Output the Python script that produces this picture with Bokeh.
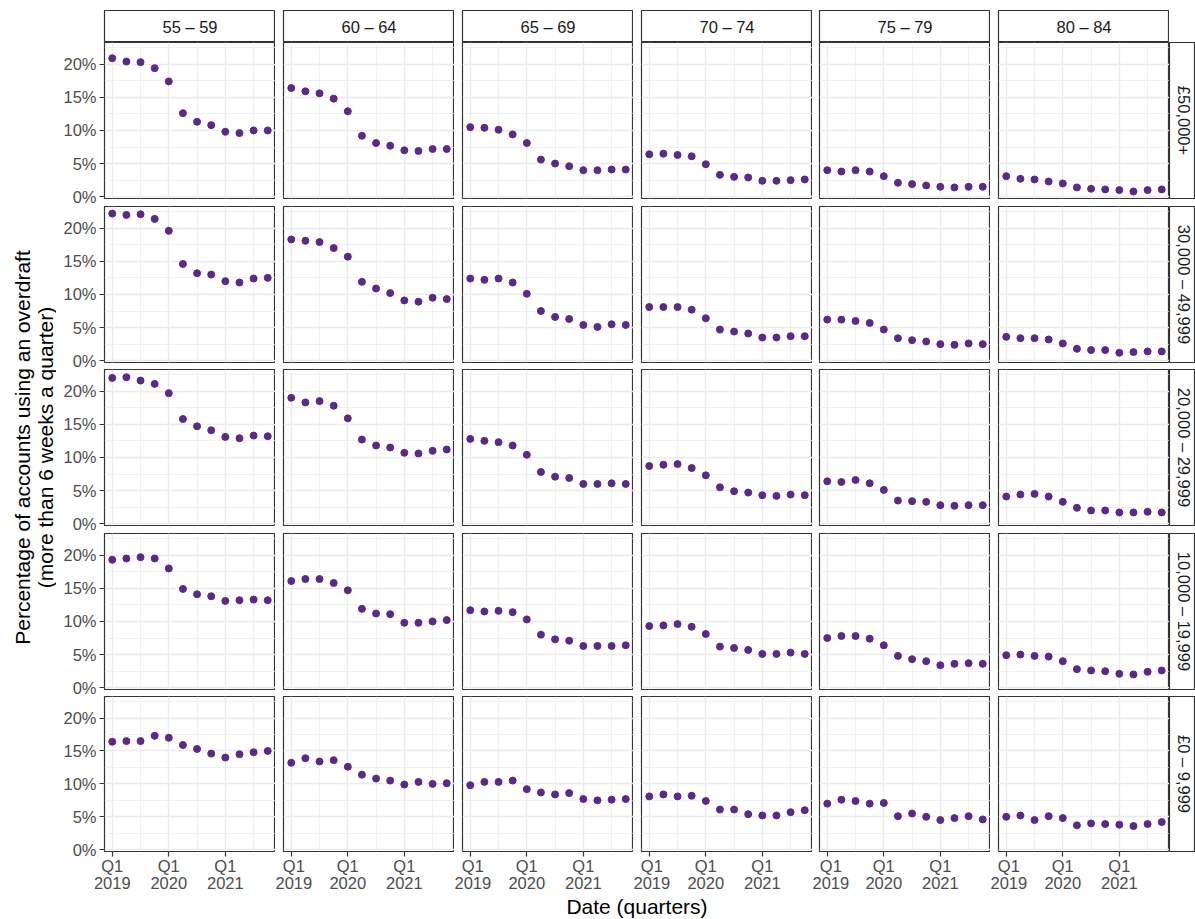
import math
from bokeh.plotting import figure
from bokeh.layouts import row, column
from bokeh.models import (Range1d, FixedTicker, ColumnDataSource, Label, Spacer,
                          PrintfTickFormatter)
from bokeh.embed import file_html
from bokeh.resources import INLINE

# ---------------- data ----------------
age_groups = ["55 – 59", "60 – 64", "65 – 69", "70 – 74", "75 – 79", "80 – 84"]
income_bands = ["£50,000+", "30,000 – 49,999", "20,000 – 29,999",
                "10,000 – 19,999", "£0 – 9,999"]
quarter_index = list(range(12))
quarter_labels = ["2019 Q1", "2019 Q2", "2019 Q3", "2019 Q4",
                  "2020 Q1", "2020 Q2", "2020 Q3", "2020 Q4",
                  "2021 Q1", "2021 Q2", "2021 Q3", "2021 Q4"]
x_tick_positions = [0, 4, 8]
x_tick_labels = ["Q1\n2019", "Q1\n2020", "Q1\n2021"]
y_ticks = [0, 5, 10, 15, 20]

# percentage of accounts, one list per age group (55-59 ... 80-84)
band_50k_plus = [
    [20.9, 20.4, 20.3, 19.4, 17.4, 12.6, 11.3, 10.8, 9.8, 9.6, 10.0, 10.0],
    [16.4, 15.9, 15.6, 14.8, 12.9, 9.2, 8.1, 7.7, 7.0, 6.9, 7.2, 7.2],
    [10.5, 10.4, 10.1, 9.4, 8.1, 5.6, 5.0, 4.6, 4.0, 4.0, 4.1, 4.1],
    [6.4, 6.5, 6.3, 6.1, 4.9, 3.3, 3.0, 2.9, 2.4, 2.4, 2.5, 2.6],
    [4.0, 3.8, 4.0, 3.8, 3.1, 2.1, 1.9, 1.7, 1.5, 1.4, 1.5, 1.5],
    [3.1, 2.7, 2.6, 2.3, 2.0, 1.4, 1.2, 1.1, 1.0, 0.8, 1.0, 1.1],
]
band_30k_50k = [
    [22.2, 22.0, 22.1, 21.4, 19.6, 14.6, 13.2, 13.0, 12.0, 11.8, 12.4, 12.5],
    [18.3, 18.1, 17.9, 17.0, 15.7, 11.9, 10.9, 10.2, 9.1, 8.9, 9.5, 9.3],
    [12.4, 12.2, 12.4, 11.8, 10.1, 7.5, 6.6, 6.3, 5.4, 5.1, 5.5, 5.4],
    [8.1, 8.1, 8.1, 7.7, 6.4, 4.7, 4.4, 4.1, 3.5, 3.5, 3.7, 3.7],
    [6.2, 6.2, 6.0, 5.7, 4.7, 3.4, 3.1, 2.9, 2.5, 2.4, 2.6, 2.5],
    [3.6, 3.4, 3.4, 3.2, 2.6, 1.8, 1.6, 1.6, 1.2, 1.3, 1.4, 1.4],
]
band_20k_30k = [
    [22.0, 22.1, 21.6, 21.1, 19.7, 15.8, 14.7, 14.1, 13.1, 12.9, 13.3, 13.2],
    [19.0, 18.3, 18.5, 17.8, 15.9, 12.7, 11.8, 11.5, 10.7, 10.6, 11.0, 11.2],
    [12.8, 12.5, 12.3, 11.8, 10.4, 7.8, 7.1, 6.9, 6.0, 6.0, 6.1, 6.0],
    [8.7, 8.9, 9.0, 8.4, 7.3, 5.5, 4.9, 4.7, 4.3, 4.2, 4.4, 4.3],
    [6.4, 6.3, 6.6, 6.1, 5.1, 3.5, 3.4, 3.3, 2.8, 2.7, 2.8, 2.8],
    [4.1, 4.4, 4.5, 4.1, 3.3, 2.4, 2.0, 2.0, 1.7, 1.7, 1.8, 1.7],
]
band_10k_20k = [
    [19.3, 19.5, 19.7, 19.5, 18.0, 14.9, 14.1, 13.8, 13.1, 13.2, 13.3, 13.2],
    [16.1, 16.4, 16.4, 15.8, 14.7, 11.9, 11.2, 11.1, 9.8, 9.8, 10.0, 10.2],
    [11.7, 11.5, 11.6, 11.4, 10.3, 8.0, 7.3, 7.1, 6.3, 6.3, 6.3, 6.4],
    [9.3, 9.4, 9.6, 9.2, 8.1, 6.2, 6.0, 5.7, 5.1, 5.1, 5.3, 5.1],
    [7.5, 7.8, 7.8, 7.4, 6.4, 4.8, 4.3, 4.0, 3.4, 3.6, 3.7, 3.6],
    [4.9, 5.0, 4.8, 4.7, 4.0, 2.8, 2.6, 2.5, 2.1, 2.0, 2.4, 2.6],
]
band_0_10k = [
    [16.4, 16.5, 16.5, 17.3, 17.0, 15.9, 15.3, 14.6, 14.0, 14.5, 14.8, 15.0],
    [13.2, 13.9, 13.4, 13.6, 12.6, 11.4, 10.8, 10.5, 9.9, 10.3, 10.0, 10.1],
    [9.8, 10.3, 10.3, 10.5, 9.2, 8.7, 8.4, 8.6, 7.7, 7.5, 7.6, 7.7],
    [8.1, 8.4, 8.1, 8.2, 7.4, 6.1, 6.1, 5.4, 5.2, 5.2, 5.7, 6.0],
    [7.0, 7.6, 7.4, 7.0, 7.1, 5.1, 5.5, 5.0, 4.5, 4.8, 5.1, 4.6],
    [5.0, 5.2, 4.5, 5.1, 4.8, 3.7, 4.0, 3.9, 3.8, 3.6, 3.9, 4.2],
]
bands = [band_50k_plus, band_30k_50k, band_20k_30k, band_10k_20k, band_0_10k]

# ---------------- scales ----------------
all_vals = [v for b in bands for s in b for v in s]
lo, hi = min(all_vals), max(all_vals)
pad = 0.05 * (hi - lo)
y_lo, y_hi = lo - pad, hi + pad
x_pad = 0.05 * (quarter_index[-1] - quarter_index[0])
x_lo, x_hi = quarter_index[0] - x_pad, quarter_index[-1] + x_pad

# ---------------- style / geometry ----------------
FONT = "Liberation Sans"
PURPLE = "#5A2A86"
BORDER = "#333333"
GRID = "#EBEBEB"
TICK_FS = "16.5px"
TITLE_FS = "21px"

FRAME_W, FRAME_H = 171, 156
LEFT_AX = 48
YT_W = 56
COL_GAPS = [8, 8, 8, 7, 8]
ROW_GAPS = [8, 7, 8, 7]
STRIP_TOP, STRIP_H = 10, 32
RSTRIP_W = 26
XAX = 42
TOTAL_H = 919
COL_W = LEFT_AX + 6 * FRAME_W + sum(COL_GAPS) + RSTRIP_W
GRID_H = STRIP_TOP + STRIP_H + 5 * FRAME_H + sum(ROW_GAPS) + XAX
XT_H = TOTAL_H - GRID_H
N_ROWS = len(bands)


def bottom_border(ri):
    return XAX if ri == N_ROWS - 1 else ROW_GAPS[ri]


def left_border(ci):
    return LEFT_AX if ci == 0 else COL_GAPS[ci - 1]


def base_fig(**kw):
    p = figure(output_backend="svg", toolbar_location=None, min_border=0,
               x_axis_location=None, y_axis_location=None, **kw)
    p.grid.visible = False
    return p


def style_axis(ax, standoff, line_height):
    ax.axis_line_color = None
    ax.major_tick_line_color = BORDER
    ax.major_tick_line_width = 1.2
    ax.major_tick_out = 5
    ax.major_tick_in = 0
    ax.minor_tick_line_color = None
    ax.major_label_standoff = standoff
    ax.major_label_text_font = FONT
    ax.major_label_text_font_size = TICK_FS
    ax.major_label_text_color = "#4D4D4D"
    ax.major_label_text_line_height = line_height


def make_panel(vals, ri, ci):
    is_left = ci == 0
    is_bottom = ri == N_ROWS - 1
    p = figure(
        width=left_border(ci) + FRAME_W, height=FRAME_H + bottom_border(ri),
        x_range=Range1d(x_lo, x_hi), y_range=Range1d(y_lo, y_hi),
        x_axis_location="below" if is_bottom else None,
        y_axis_location="left" if is_left else None,
        output_backend="svg", toolbar_location=None, min_border=0,
        min_border_left=left_border(ci), min_border_right=0,
        min_border_top=0, min_border_bottom=bottom_border(ri),
        outline_line_color=BORDER, outline_line_width=1.2,
        background_fill_color="white", border_fill_color="white",
    )
    p.xgrid.ticker = FixedTicker(ticks=x_tick_positions, minor_ticks=[2, 6, 10])
    p.ygrid.ticker = FixedTicker(ticks=y_ticks, minor_ticks=[2.5, 7.5, 12.5, 17.5, 22.5])
    for g in (p.xgrid[0], p.ygrid[0]):
        g.grid_line_color = GRID
        g.grid_line_width = 1.4
        g.minor_grid_line_color = GRID
        g.minor_grid_line_width = 0.7
    if is_bottom:
        ax = p.xaxis[0]
        ax.ticker = FixedTicker(ticks=x_tick_positions)
        ax.major_label_overrides = dict(zip(x_tick_positions, x_tick_labels))
        style_axis(ax, 0, 0.95)
    if is_left:
        ay = p.yaxis[0]
        ay.ticker = FixedTicker(ticks=y_ticks)
        ay.formatter = PrintfTickFormatter(format="%d%%")
        style_axis(ay, 3, 1.0)
    src = ColumnDataSource(dict(q=quarter_index, v=vals, quarter=quarter_labels))
    p.scatter("q", "v", source=src, size=7, fill_color=PURPLE, line_color=PURPLE)
    return p


def make_top_strip(text, ci):
    p = base_fig(width=left_border(ci) + FRAME_W, height=STRIP_TOP + STRIP_H,
                 x_range=Range1d(0, FRAME_W), y_range=Range1d(0, STRIP_H),
                 min_border_left=left_border(ci), min_border_top=STRIP_TOP,
                 outline_line_color=BORDER, outline_line_width=1.2)
    p.add_layout(Label(x=FRAME_W / 2, y=STRIP_H / 2, text=text,
                       text_align="center", text_baseline="middle",
                       text_font=FONT, text_font_size=TICK_FS, text_color="#1A1A1A"))
    return p


def make_right_strip(text, ri):
    p = base_fig(width=RSTRIP_W, height=FRAME_H + bottom_border(ri),
                 x_range=Range1d(0, RSTRIP_W), y_range=Range1d(0, FRAME_H),
                 min_border_bottom=bottom_border(ri),
                 outline_line_color=BORDER, outline_line_width=1.2)
    p.add_layout(Label(x=RSTRIP_W / 2 + 1, y=FRAME_H / 2, text=text, angle=-math.pi / 2,
                       text_align="center", text_baseline="middle",
                       text_font=FONT, text_font_size=TICK_FS, text_color="#1A1A1A"))
    return p


strip_row = row([make_top_strip(a, ci) for ci, a in enumerate(age_groups)]
                + [Spacer(width=RSTRIP_W, height=STRIP_TOP + STRIP_H)])
panel_rows = []
for ri, band in enumerate(bands):
    figs = [make_panel(band[ci], ri, ci) for ci in range(len(age_groups))]
    figs.append(make_right_strip(income_bands[ri], ri))
    panel_rows.append(row(figs))

xt = base_fig(width=COL_W, height=XT_H,
              x_range=Range1d(0, COL_W), y_range=Range1d(0, XT_H),
              outline_line_color=None)
xt.add_layout(Label(x=LEFT_AX + (6 * FRAME_W + sum(COL_GAPS)) / 2, y=13,
                    text="Date (quarters)", text_align="center",
                    text_baseline="middle", text_font=FONT,
                    text_font_size=TITLE_FS, text_color="black"))

yt = base_fig(width=YT_W, height=TOTAL_H,
              x_range=Range1d(0, YT_W), y_range=Range1d(0, TOTAL_H),
              outline_line_color=None)
panel_mid = STRIP_TOP + STRIP_H + (5 * FRAME_H + sum(ROW_GAPS)) / 2
yt.add_layout(Label(x=33, y=TOTAL_H - panel_mid,
                    text="Percentage of accounts using an overdraft\n(more than 6 weeks a quarter)",
                    angle=math.pi / 2, text_align="center", text_baseline="middle",
                    text_font=FONT, text_font_size=TITLE_FS, text_color="black",
                    text_line_height=1.0))

layout = row(yt, column([strip_row] + panel_rows + [xt]))

open("out.html", "w").write(file_html(layout, INLINE, "Overdraft usage"))
